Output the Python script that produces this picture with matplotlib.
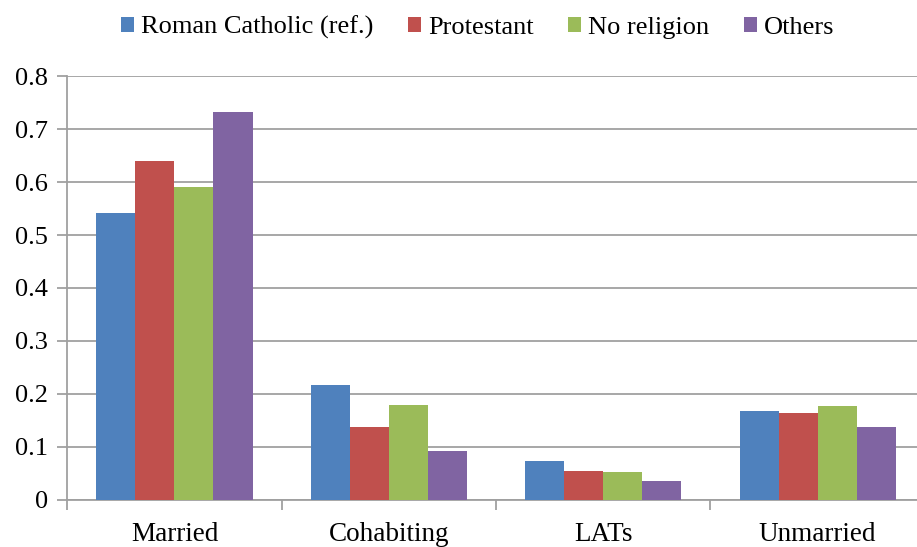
import matplotlib.pyplot as plt
import numpy as np

categories = ["Married", "Cohabiting", "LATs", "Unmarried"]
series_names = ["Roman Catholic (ref.)", "Protestant", "No religion", "Others"]
catholic = [0.541, 0.217, 0.073, 0.167]
protestant = [0.640, 0.138, 0.055, 0.165]
no_religion = [0.590, 0.179, 0.052, 0.177]
others = [0.732, 0.093, 0.036, 0.137]
colors = ["#4F81BD", "#C0504D", "#9BBB59", "#8064A2"]

plt.rcParams["font.family"] = ["Liberation Serif", "DejaVu Serif"]
plt.rcParams["font.size"] = 19

fig = plt.figure(figsize=(9.17, 5.47), dpi=100)
# the original chart is cut off on the right, so the axes run past the edge
ax = fig.add_axes([0.0734, 0.086, 0.935, 0.775])

x = np.arange(len(categories))
width = 0.182
series = [catholic, protestant, no_religion, others]
for i, vals in enumerate(series):
    ax.bar(x + (i - 1.5) * width, vals, width, color=colors[i],
           label=series_names[i], zorder=3)

ax.set_xlim(-0.5, 3.5)
ax.set_ylim(0, 0.8)
ax.set_yticks(np.arange(0, 0.81, 0.1))
ax.set_yticklabels(["0"] + ["%.1f" % v for v in np.arange(0.1, 0.81, 0.1)])
ax.yaxis.grid(True, color="#A0A0A0", linewidth=1.3, zorder=0)

ax.set_xticks(x)
ax.set_xticklabels(categories)
ax.set_xticks(np.arange(-0.5, 3.6, 1), minor=True)
ax.tick_params(axis="x", which="major", length=0, pad=16, labelsize=19.5)
ax.tick_params(axis="x", which="minor", length=7, color="#A0A0A0", width=1.3)
ax.tick_params(axis="y", length=7, color="#A0A0A0", width=1.3, pad=7)

for s in ["top", "right"]:
    ax.spines[s].set_visible(False)
for s in ["left", "bottom"]:
    ax.spines[s].set_color("#A0A0A0")
    ax.spines[s].set_linewidth(1.3)

fig.legend(loc="upper center", bbox_to_anchor=(0.521, 1.015), ncol=4, frameon=False,
           handlelength=0.5, handleheight=0.5, handletextpad=0.27, columnspacing=1.3)

plt.savefig("out.png")
